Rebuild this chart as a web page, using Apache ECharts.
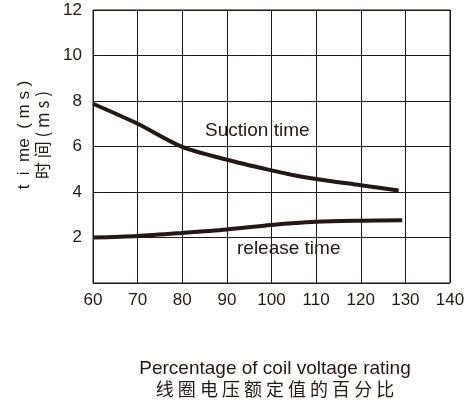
<!DOCTYPE html>
<html><head><meta charset="utf-8">
<script src="https://cdn.jsdelivr.net/npm/echarts@6/dist/echarts.min.js"></script>
<style>html,body{margin:0;padding:0;background:#fff}#c{width:473px;height:405px}</style>
</head><body><div id="c"></div>
<script>
const xTicks = [60, 70, 80, 90, 100, 110, 120, 130, 140];
const yTicks = [2, 4, 6, 8, 10, 12];
const suctionX = [60, 70, 80, 90, 100, 105, 110, 120, 128.5];
const suctionY = [7.88, 7.0, 5.98, 5.42, 4.95, 4.74, 4.57, 4.3, 4.07];
const releaseX = [60, 70, 80, 90, 100, 110, 120, 129.3];
const releaseY = [2.0, 2.07, 2.2, 2.35, 2.55, 2.69, 2.74, 2.76];
const seriesNames = ['Suction time', 'release time'];
const xTitle = 'Percentage of coil voltage rating';
const xTitleCn = '线 圈 电 压 额 定 值 的 百 分 比';
const yTitle = 't  i  me  ( m s )';
const yTitleCn = '时 间 ( m s )';

const font = '"Liberation Sans",Arial,sans-serif';
const ink = '#231815';
const chart = echarts.init(document.getElementById('c'), null, {renderer: 'canvas'});
chart.setOption({
  animation: false,
  grid: {left: 93, right: 23, top: 10, bottom: 122, show: true, borderColor: ink, borderWidth: 1},
  xAxis: {
    type: 'value', min: 60, max: 140, interval: 10,
    axisLine: {show: false}, axisTick: {show: false},
    splitLine: {show: true, lineStyle: {color: ink, width: 1}},
    axisLabel: {color: ink, fontSize: 17, fontFamily: font, margin: 9,
      formatter: v => xTicks.includes(v) ? String(v) : ''}
  },
  yAxis: {
    type: 'value', min: 0, max: 12, interval: 2,
    axisLine: {show: false}, axisTick: {show: false},
    splitLine: {show: true, lineStyle: {color: ink, width: 1}},
    axisLabel: {color: ink, fontSize: 17, fontFamily: font, margin: 11,
      formatter: v => yTicks.includes(v) ? String(v) : ''}
  },
  series: [
    {name: seriesNames[0], type: 'line', smooth: 0.3, symbol: 'none',
     lineStyle: {color: ink, width: 4},
     data: suctionX.map((x, i) => [x, suctionY[i]])},
    {name: seriesNames[1], type: 'line', smooth: 0.3, symbol: 'none',
     lineStyle: {color: ink, width: 4},
     data: releaseX.map((x, i) => [x, releaseY[i]])}
  ],
  graphic: [
    {type: 'text', x: 205, y: 131, style: {text: seriesNames[0], fill: ink, font: '19px ' + font, verticalAlign: 'middle'}},
    {type: 'text', x: 237, y: 249, style: {text: seriesNames[1], fill: ink, font: '19px ' + font, verticalAlign: 'middle'}},
    {type: 'text', x: 275, y: 369, style: {text: xTitle, fill: ink, font: '19px ' + font, align: 'center', verticalAlign: 'middle'}},
    {type: 'text', x: 275, y: 389, style: {text: xTitleCn, fill: ink, font: '18px "Noto Sans CJK SC"', align: 'center', verticalAlign: 'middle'}},
    {type: 'text', x: 24, y: 135, rotation: Math.PI / 2, style: {text: yTitle, fill: ink, font: '17px ' + font, align: 'center', verticalAlign: 'middle'}},
    {type: 'text', x: 43, y: 135, rotation: Math.PI / 2, style: {text: yTitleCn, fill: ink, font: '17px "Noto Sans CJK SC"', align: 'center', verticalAlign: 'middle'}}
  ]
});
</script></body></html>
